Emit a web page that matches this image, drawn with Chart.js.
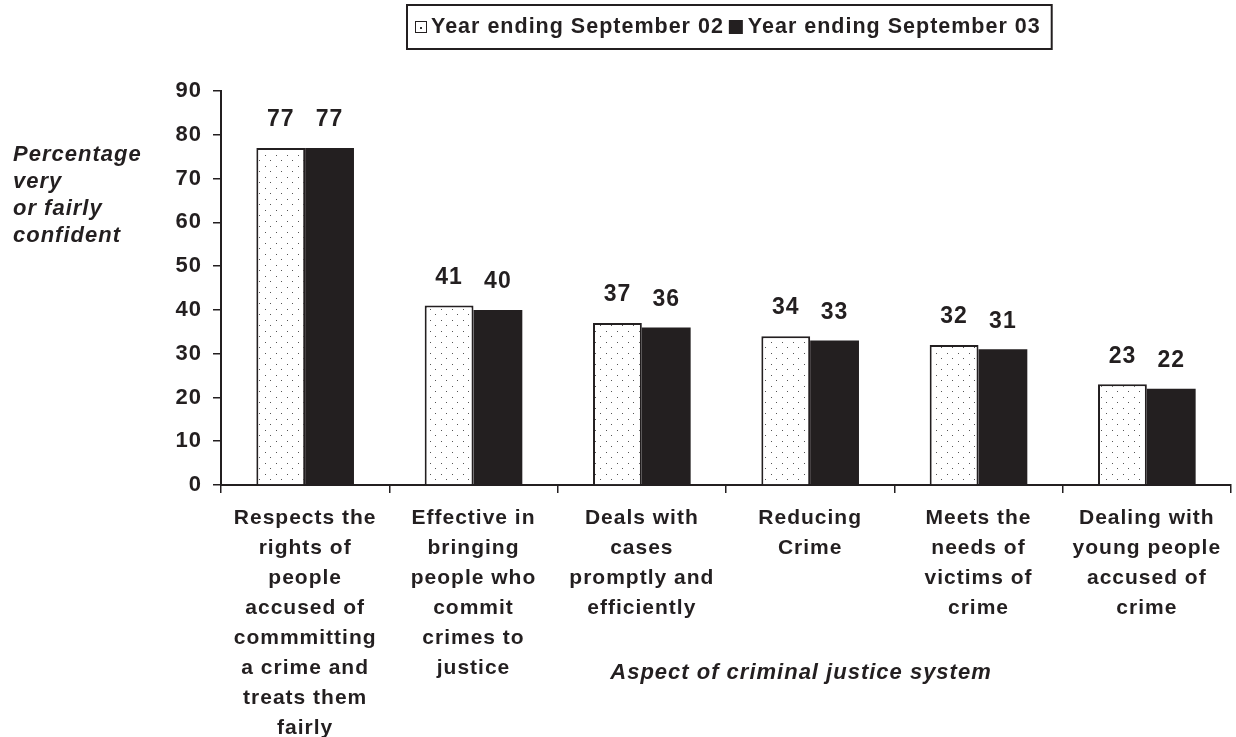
<!DOCTYPE html>
<html>
<head>
<meta charset="utf-8">
<title>Confidence in the criminal justice system</title>
<script src="https://cdn.jsdelivr.net/npm/chart.js@4/dist/chart.umd.min.js"></script>
<style>
  html, body { margin: 0; padding: 0; background: #fff; }
</style>
</head>
<body>
<canvas id="chart" width="1236" height="737"></canvas>
<script>
// data
const categories = [
  ["Respects the", "rights of", "people", "accused of", "commmitting", "a crime and", "treats them", "fairly"],
  ["Effective in", "bringing", "people who", "commit", "crimes to", "justice"],
  ["Deals with", "cases", "promptly and", "efficiently"],
  ["Reducing", "Crime"],
  ["Meets the", "needs of", "victims of", "crime"],
  ["Dealing with", "young people", "accused of", "crime"]
];
const seriesNames = ["Year ending September 02", "Year ending September 03"];
const sep02 = [77, 41, 37, 34, 32, 23];
const sep03 = [77, 40, 36, 33, 31, 22];
const yMin = 0, yMax = 90, yStep = 10;
const yTitle = ["Percentage", "very", "or fairly", "confident"];
const xTitle = "Aspect of criminal justice system";

const ink = "#231f20";
const family = "'Liberation Sans', Arial, sans-serif";
const canvas = document.getElementById("chart");
const ctx = canvas.getContext("2d");

// white fill with a staggered grid of small grey dots
function dotPattern() {
  const c = document.createElement("canvas");
  c.width = 11; c.height = 11;
  const g = c.getContext("2d");
  g.fillStyle = "#fff";
  g.fillRect(0, 0, 11, 11);
  g.fillStyle = "#555";
  g.fillRect(1, 1, 1, 1);
  g.fillRect(6, 6, 1, 1);
  return ctx.createPattern(c, "repeat");
}
const dots = dotPattern();

// wider tracking for all text
const spacing = {
  id: "spacing",
  beforeDraw(chart) { chart.ctx.letterSpacing = "1px"; }
};

// values above each bar
const barValues = {
  id: "barValues",
  afterDatasetsDraw(chart) {
    const c = chart.ctx;
    c.save();
    c.fillStyle = ink;
    c.font = "bold 23px " + family;
    c.textAlign = "center";
    c.textBaseline = "middle";
    chart.data.datasets.forEach((ds, i) => {
      chart.getDatasetMeta(i).data.forEach((bar, j) => {
        c.fillText(String(ds.data[j]), bar.x, bar.y - 28);
      });
    });
    c.restore();
  }
};

// axis titles sit flat, y title at top left, x title under the short labels
const titles = {
  id: "titles",
  afterDraw(chart) {
    const c = chart.ctx;
    c.save();
    c.fillStyle = ink;
    c.font = "italic bold 22px " + family;
    c.textBaseline = "middle";
    c.textAlign = "left";
    yTitle.forEach((line, i) => c.fillText(line, 13, 155 + i * 27));
    c.textAlign = "center";
    c.fillText(xTitle, 801, 673);
    c.restore();
  }
};

// boxed legend across the top
const legendBox = {
  id: "legendBox",
  afterDraw(chart) {
    const c = chart.ctx;
    const sets = chart.data.datasets;
    c.save();
    c.font = "bold 21.5px " + family;
    c.textBaseline = "middle";
    c.textAlign = "left";
    const left = 407, top = 5, midY = 27;
    let x = left + 8;
    sets.forEach((ds, i) => {
      if (i === 0) {
        c.fillStyle = "#fff";
        c.fillRect(x, midY - 6, 12, 12);
        c.strokeStyle = ink;
        c.lineWidth = 1;
        c.strokeRect(x + 0.5, midY - 5.5, 11, 11);
        c.fillStyle = "#333";
        c.fillRect(x + 5, midY, 2, 2);
        x += 16;
      } else {
        c.fillStyle = ink;
        c.fillRect(x, midY - 7, 14, 14);
        x += 19;
      }
      c.fillStyle = ink;
      c.fillText(ds.label, x, midY);
      x += c.measureText(ds.label).width + 5;
    });
    c.strokeStyle = ink;
    c.lineWidth = 2;
    c.strokeRect(left, top, x - left + 6, 44);
    c.restore();
  }
};

const tickFont = { family: family, size: 22, weight: "bold" };

new Chart(canvas, {
  type: "bar",
  data: {
    labels: categories,
    datasets: [
      {
        label: seriesNames[0],
        data: sep02,
        backgroundColor: dots,
        borderColor: ink,
        borderWidth: 2
      },
      {
        label: seriesNames[1],
        data: sep03,
        backgroundColor: ink,
        borderWidth: 0
      }
    ]
  },
  options: {
    responsive: false,
    animation: false,
    devicePixelRatio: 1,
    datasets: { bar: { categoryPercentage: 0.58, barPercentage: 1 } },
    layout: { padding: { top: 91, right: 5, left: 0, bottom: 0 } },
    plugins: {
      legend: { display: false },
      tooltip: { enabled: false }
    },
    scales: {
      x: {
        grid: { offset: true, drawOnChartArea: false, tickLength: 8, color: ink, lineWidth: 1.5 },
        border: { color: ink, width: 2 },
        ticks: {
          color: ink,
          font: { family: family, size: 21, weight: "bold", lineHeight: 30 / 21 },
          padding: 10,
          maxRotation: 0,
          autoSkip: false
        },
        afterFit(scale) { scale.height = 252; }
      },
      y: {
        min: yMin,
        max: yMax,
        grid: { drawOnChartArea: false, tickLength: 8, color: ink, lineWidth: 1.5 },
        border: { color: ink, width: 2 },
        ticks: { stepSize: yStep, color: ink, font: tickFont, padding: 11 },
        afterFit(scale) { scale.width = 221; }
      }
    }
  },
  plugins: [spacing, barValues, titles, legendBox]
});
</script>
</body>
</html>
